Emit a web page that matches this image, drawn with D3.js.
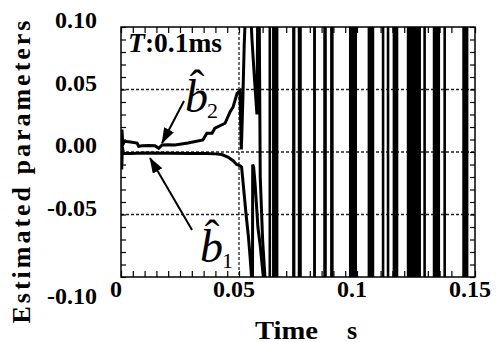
<!DOCTYPE html>
<html>
<head>
<meta charset="utf-8">
<script src="https://cdn.jsdelivr.net/npm/d3@7"></script>
<style>
  body { margin: 0; background: #fff; }
  text { font-family: "Liberation Serif", "Times New Roman", serif; fill: #000; }
</style>
</head>
<body>
<svg id="chart" width="500" height="342"></svg>
<script>
// estimated parameter b2 (upper trace)
const timeB2 = [0, 0.0004, 0.0008, 0.0015, 0.004, 0.0068, 0.0075, 0.0089, 0.012, 0.0144, 0.016, 0.0174, 0.020,
  0.0229, 0.0284, 0.0347, 0.0364, 0.0386, 0.0398, 0.0441, 0.0462, 0.0475, 0.0492, 0.0504,
  0.0510, 0.0516, 0.0522, 0.0528, 0.0545, 0.0555, 0.0565, 0.0576, 0.0580, 0.0585, 0.0590, 0.0600, 0.0610, 0.0615];
const valueB2 = [0.004, 0.018, 0.006, 0.0085, 0.008, 0.0072, 0.0045, 0.005, 0.0052, 0.005, 0.003, 0.0056, 0.0058,
  0.0056, 0.0072, 0.0096, 0.0151, 0.0151, 0.019, 0.023, 0.032, 0.036, 0.047, 0.049,
  0.002, 0.04, 0.085, 0.115, 0.13, 0.09, 0.06, 0.03, 0.13, 0.13, -0.02, -0.07, -0.1, -0.13];

// estimated parameter b1 (lower trace)
const timeB1 = [0, 0.0003, 0.0006, 0.001, 0.004, 0.01, 0.02, 0.03, 0.036, 0.040, 0.0427, 0.0453, 0.0475, 0.049,
  0.0505, 0.0511, 0.052, 0.053, 0.054, 0.0547, 0.0555, 0.0557, 0.0558, 0.0562, 0.0568, 0.0575, 0.058, 0.059, 0.0603, 0.061];
const valueB1 = [-0.002, -0.014, 0.004, -0.001, -0.0012, -0.0008, -0.001, -0.0012, -0.0012, -0.0015, -0.002, -0.004, -0.007, -0.010,
  -0.011, -0.012, -0.03, -0.05, -0.068, -0.084, -0.105, -0.13, -0.01, -0.012, -0.025, -0.045, -0.06, -0.075, -0.1, -0.12];

// time spans where the estimates swing over the whole range
const burstStart = [0.0625, 0.0640, 0.0725, 0.0749, 0.0814, 0.0857, 0.0886, 0.0966, 0.1045, 0.1105, 0.1126, 0.1151, 0.1211, 0.1281, 0.1321, 0.1366, 0.1446];
const burstEnd   = [0.0636, 0.0667, 0.0739, 0.0766, 0.0826, 0.0872, 0.0901, 0.1000, 0.1073, 0.1116, 0.1137, 0.1175, 0.1271, 0.1292, 0.1352, 0.1377, 0.1472];

const xTickValues = [0, 0.05, 0.1, 0.15];
const xTickLabels = ['0', '0.05', '0.1', '0.15'];
const yTickValues = [0.1, 0.05, 0, -0.05, -0.1];
const yTickLabels = ['0.10', '0.05', '0.00', '-0.05', '-0.10'];
const xGridValues = [0.05];
const yGridValues = [0.05, 0, -0.05];

const width = 500, height = 342;
const margin = { top: 27, right: 25, bottom: 65, left: 121 };

const svg = d3.select('#chart');

const x = d3.scaleLinear().domain([0, 0.15]).range([margin.left, width - margin.right]);
const y = d3.scaleLinear().domain([-0.1, 0.1]).range([height - margin.bottom, margin.top]);

svg.append('defs').append('clipPath').attr('id', 'plot-clip')
  .append('rect')
  .attr('x', x(0)).attr('y', y(0.1))
  .attr('width', x(0.15) - x(0)).attr('height', y(-0.1) - y(0.1));

const arrow = svg.select('defs').append('marker')
  .attr('id', 'arrow')
  .attr('markerUnits', 'userSpaceOnUse')
  .attr('markerWidth', 18).attr('markerHeight', 12)
  .attr('refX', 15).attr('refY', 5.5)
  .attr('orient', 'auto');
arrow.append('path').attr('d', 'M0,0 L16,5.5 L0,11 Z').attr('fill', '#000');

// dotted grid
svg.append('g').selectAll('line').data(yGridValues).join('line')
  .attr('x1', x(0)).attr('x2', x(0.15))
  .attr('y1', d => y(d)).attr('y2', d => y(d))
  .attr('stroke', '#222').attr('stroke-width', 1.3).attr('stroke-dasharray', '3,2');
svg.append('g').selectAll('line').data(xGridValues).join('line')
  .attr('x1', d => x(d)).attr('x2', d => x(d))
  .attr('y1', y(0.1)).attr('y2', y(-0.1))
  .attr('stroke', '#222').attr('stroke-width', 1.3).attr('stroke-dasharray', '3,2');

// inward ticks on all four sides
const xMinor = d3.range(0, 0.15001, 0.005);
const yMinor = d3.range(-0.1, 0.10001, 0.01);
const noDomain = g => { g.select('.domain').remove(); g.selectAll('.tick line').attr('stroke-width', 1.2); };
svg.append('g').attr('transform', `translate(0,${y(-0.1)})`)
  .call(d3.axisBottom(x).tickValues(xMinor).tickSize(-6).tickFormat('')).call(noDomain);
svg.append('g').attr('transform', `translate(0,${y(0.1)})`)
  .call(d3.axisTop(x).tickValues(xMinor).tickSize(-6).tickFormat('')).call(noDomain);
svg.append('g').attr('transform', `translate(${x(0)},0)`)
  .call(d3.axisLeft(y).tickValues(yMinor).tickSize(-5).tickFormat('')).call(noDomain);
svg.append('g').attr('transform', `translate(${x(0.15)},0)`)
  .call(d3.axisRight(y).tickValues(yMinor).tickSize(-5).tickFormat('')).call(noDomain);

// data
const plot = svg.append('g').attr('clip-path', 'url(#plot-clip)');

plot.selectAll('rect.burst')
  .data(d3.zip(burstStart, burstEnd))
  .join('rect')
  .attr('class', 'burst')
  .attr('x', d => x(d[0]))
  .attr('width', d => x(d[1]) - x(d[0]))
  .attr('y', y(0.1))
  .attr('height', y(-0.1) - y(0.1))
  .attr('fill', '#000');

const line = d3.line().x(d => x(d[0])).y(d => y(d[1]));

plot.append('path').datum(d3.zip(timeB1, valueB1))
  .attr('d', line).attr('fill', 'none').attr('stroke', '#000').attr('stroke-width', 3);
plot.append('path').datum(d3.zip(timeB2, valueB2))
  .attr('d', line).attr('fill', 'none').attr('stroke', '#000').attr('stroke-width', 3);

// frame
svg.append('rect')
  .attr('x', x(0)).attr('y', y(0.1))
  .attr('width', x(0.15) - x(0)).attr('height', y(-0.1) - y(0.1))
  .attr('fill', 'none').attr('stroke', '#000').attr('stroke-width', 1.5);

// tick labels
svg.append('g').selectAll('text').data(xTickValues).join('text')
  .attr('x', d => x(d) - 5)
  .attr('y', 297)
  .attr('text-anchor', 'middle')
  .attr('font-size', 24).attr('font-weight', 'bold')
  .text((d, i) => xTickLabels[i]);

svg.append('g').selectAll('text').data(yTickValues).join('text')
  .attr('x', 97)
  .attr('y', d => d === -0.1 ? y(d) + 27 : y(d) + 1)
  .attr('text-anchor', 'end')
  .attr('font-size', 24).attr('font-weight', 'bold')
  .text((d, i) => yTickLabels[i]);

// axis titles
svg.append('text')
  .attr('x', 255).attr('y', 339)
  .attr('font-size', 26).attr('font-weight', 'bold')
  .attr('textLength', 63).attr('lengthAdjust', 'spacingAndGlyphs')
  .text('Time');
svg.append('text')
  .attr('x', 347).attr('y', 339)
  .attr('font-size', 26).attr('font-weight', 'bold')
  .text('s');

svg.append('text')
  .attr('transform', 'translate(30,172) rotate(-90)')
  .attr('text-anchor', 'middle')
  .attr('font-size', 26).attr('font-weight', 'bold')
  .attr('textLength', 303).attr('lengthAdjust', 'spacing')
  .text('Estimated parameters');

// sampling period note
const note = svg.append('text')
  .attr('x', x(0.003)).attr('y', y(0.08))
  .attr('font-size', 27).attr('font-weight', 'bold')
  .attr('textLength', 94).attr('lengthAdjust', 'spacingAndGlyphs');
note.append('tspan').attr('font-style', 'italic').text('T');
note.append('tspan').text(':0.1ms');

// b-hat labels with arrows
function hatLabel(t, v, sub) {
  const g = svg.append('g').attr('transform', `translate(${x(t)},${y(v)})`);
  g.append('text').attr('font-size', 46).attr('font-style', 'italic').text('b');
  g.append('text').attr('x', 12).attr('y', -12).attr('text-anchor', 'middle')
    .attr('font-size', 44).text('\u02C6');
  g.append('text').attr('x', 22).attr('y', 6).attr('font-size', 22).text(sub);
}
hatLabel(0.0271, 0.032, '2');
hatLabel(0.0335, -0.088, '1');

function arrowLine(t0, v0, t1, v1) {
  svg.append('line')
    .attr('x1', x(t0)).attr('y1', y(v0))
    .attr('x2', x(t1)).attr('y2', y(v1))
    .attr('stroke', '#000').attr('stroke-width', 2)
    .attr('marker-end', 'url(#arrow)');
}
arrowLine(0.0267, 0.0408, 0.0174, 0.0072);
arrowLine(0.0301, -0.0624, 0.0123, -0.0048);
</script>
</body>
</html>
